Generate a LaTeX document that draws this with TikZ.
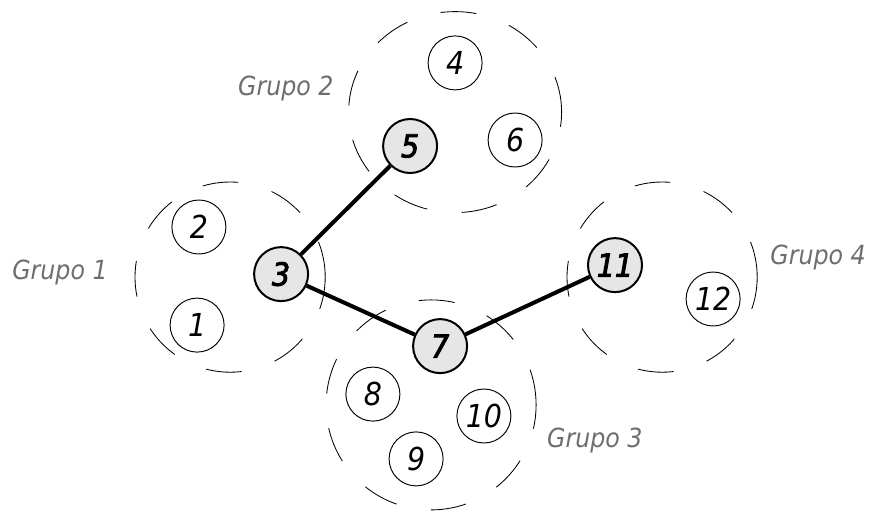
\documentclass[tikz,border=0pt]{standalone}
\usepackage{fontspec}
\setmainfont{DejaVu Sans Condensed}
\newfontface\hubface{DejaVu Sans Condensed Oblique}[FakeBold=3]
\usepackage{tikz}

\definecolor{hubfill}{RGB}{230,230,230}
\definecolor{labelgray}{RGB}{110,110,110}

\begin{document}
\begin{tikzpicture}[
        peer/.style={circle, draw, line width=0.9pt, minimum size=1.8cm, inner sep=0pt,
            font=\fontsize{30}{32}\selectfont\itshape},
        hub/.style={peer, fill=hubfill, line width=1.9pt, font=\fontsize{30}{32}\selectfont\hubface},
        group/.style={line width=0.8pt, dash pattern=on 34pt off 33pt},
        grouplabel/.style={text=labelgray, font=\fontsize{25}{28}\selectfont\itshape},
        link/.style={line width=3.8pt}
    ]
            \useasboundingbox (0, 0) rectangle (29.1, 17.067);

            % dashed group borders
            \draw[group] (7.67, 7.83) circle[radius=3.17];
            \draw[group] (15.17, 13.33) circle[x radius=3.55, y radius=3.35];
            \draw[group] (14.37, 3.57) circle[radius=3.5];
            \draw[group] (22.07, 7.83) circle[radius=3.17];

            \node[grouplabel] (g1) at (2.0, 8.0) {Grupo 1};
            \node[grouplabel] (g2) at (9.53, 14.13) {Grupo 2};
            \node[grouplabel] (g3) at (19.83, 2.37) {Grupo 3};
            \node[grouplabel] (g4) at (27.27, 8.47) {Grupo 4};

            \node[peer] (n1) at (6.57, 6.23) {1};
            \node[peer] (n2) at (6.63, 9.5) {2};
            \node[hub] (n3) at (9.37, 7.93) {3};
            \node[peer] (n4) at (15.17, 14.97) {4};
            \node[hub] (n5) at (13.67, 12.2) {5};
            \node[peer] (n6) at (17.17, 12.4) {6};
            \node[hub] (n7) at (14.67, 5.53) {7};
            \node[peer] (n8) at (12.43, 3.93) {8};
            \node[peer] (n9) at (13.87, 1.77) {9};
            \node[peer] (n10) at (16.13, 3.2) {10};
            \node[hub] (n11) at (20.5, 8.23) {11};
            \node[peer] (n12) at (23.77, 7.1) {12};

            % links between the group heads
            \draw[link] (n3) -- (n5);
            \draw[link] (n3) -- (n7);
            \draw[link] (n7) -- (n11);

        \end{tikzpicture}
\end{document}
